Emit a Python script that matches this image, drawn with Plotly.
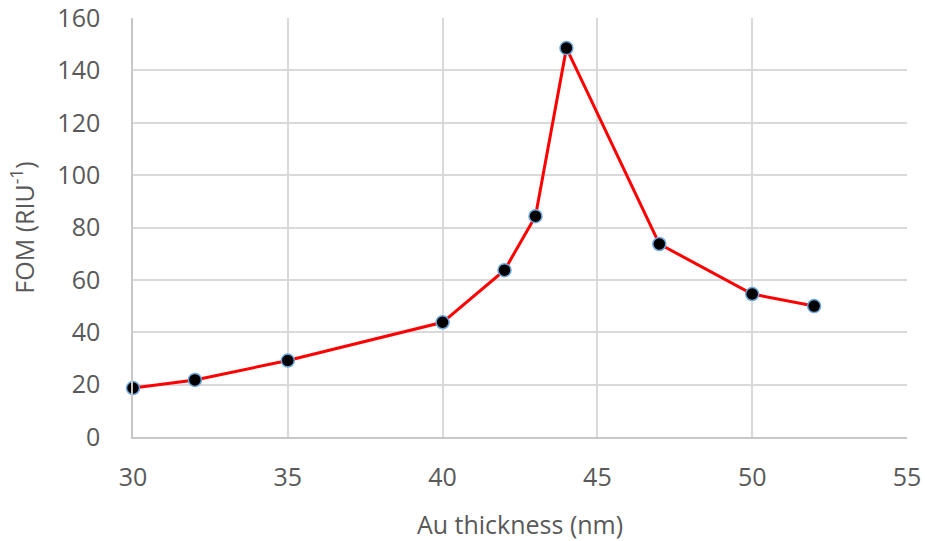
import plotly.graph_objects as go

thickness = [30, 32, 35, 40, 42, 43, 44, 47, 50, 52]
fom = [18.7, 21.8, 29.2, 43.8, 63.7, 84.3, 148.5, 73.7, 54.6, 50.0]
x_ticks = [30, 35, 40, 45, 50, 55]
y_ticks = [0, 20, 40, 60, 80, 100, 120, 140, 160]

fig = go.Figure()
fig.add_trace(go.Scatter(
    x=thickness, y=fom, mode="lines+markers",
    line=dict(color="#ff0000", width=3),
    marker=dict(color="#000000", size=13, line=dict(color="#6fa8dc", width=1.5)),
    showlegend=False, cliponaxis=False,
))

tick_font = dict(family="Open Sans, Liberation Sans, sans-serif", size=25, color="#595959")
title_font = dict(family="Open Sans, Liberation Sans, sans-serif", size=25, color="#595959")
fig.update_layout(
    width=925, height=541,
    margin=dict(l=133, r=18, t=18, b=104, autoexpand=False),
    paper_bgcolor="white", plot_bgcolor="white",
    font=tick_font,
    xaxis=dict(range=[30, 55], tickvals=x_ticks, showgrid=True, gridcolor="#d9d9d9", gridwidth=1.5,
               showline=True, linecolor="#c8c8c8", linewidth=1.5, zeroline=False,
               ticks="", ticklabelstandoff=17, automargin=False, tickfont=tick_font,
               ticklabeloverflow="allow",
               title=dict(text="Au thickness (nm)", font=title_font, standoff=26)),
    yaxis=dict(range=[0, 160], tickvals=y_ticks, showgrid=True, gridcolor="#d9d9d9", gridwidth=1.5,
               showline=True, linecolor="#c8c8c8", linewidth=1.5, zeroline=False,
               ticks="", ticklabelstandoff=26, automargin=False, tickfont=tick_font,
               ticklabeloverflow="allow",
               title=dict(text="FOM (RIU<sup>-1</sup>)", font=title_font, standoff=16)),
)
fig.write_html("out.html", config={"displayModeBar": False},
               post_script="document.body.style.margin='0px';")
